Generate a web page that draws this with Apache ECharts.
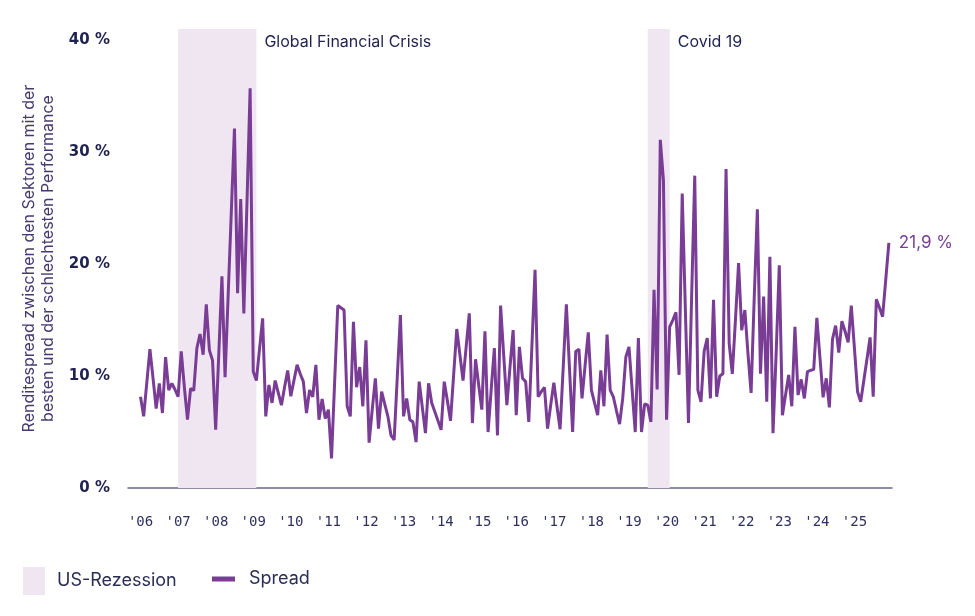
<!DOCTYPE html>
<html>
<head>
<meta charset="utf-8">
<script src="https://cdn.jsdelivr.net/npm/echarts@6/dist/echarts.min.js"></script>
<style>
  html, body { margin: 0; padding: 0; background: #fff; }
  #main { width: 975px; height: 616px; }
</style>
</head>
<body>
<div id="main"></div>
<script>
// Monatswerte Spread (%), Jan 2006 .. Dez 2025
var spread = [
  8.15, 6.4, 9.4, 12.4, 9.8, 7.1, 9.35, 6.7, 11.7, 8.75, 9.35, 8.8,
  8.15, 12.2, 9.0, 6.1, 8.9, 8.7, 12.5, 13.75, 11.9, 16.4, 12.3, 11.4,
  5.2, 12.0, 18.9, 9.9, 17.3, 24.7, 32.1, 17.4, 25.8, 15.6, 25.5, 35.7,
  10.4, 9.6, 12.4, 15.15, 6.4, 9.2, 7.6, 9.6, 8.5, 7.4, 9.0, 10.5,
  8.2, 9.6, 11.0, 10.2, 9.5, 6.7, 8.75, 8.15, 11.0, 6.1, 7.95, 6.2,
  7.0, 2.65, 9.5, 16.3, 16.1, 15.9, 7.3, 6.4, 14.85, 9.0, 10.8, 7.3,
  13.2, 4.05, 7.0, 9.8, 5.3, 8.6, 7.5, 6.4, 4.7, 4.3, 9.9, 15.45,
  6.4, 8.0, 6.1, 5.9, 4.1, 9.5, 7.2, 4.9, 9.35, 7.6, 6.8, 6.0,
  5.2, 9.5, 7.8, 6.0, 10.1, 14.2, 11.9, 9.6, 12.6, 15.6, 5.8, 11.5,
  9.2, 7.0, 14.0, 5.0, 8.8, 12.5, 4.7, 16.3, 11.8, 7.4, 10.8, 14.1,
  6.5, 12.6, 9.8, 9.5, 5.9, 12.7, 19.5, 8.15, 8.6, 9.0, 5.3, 7.4,
  9.4, 7.3, 5.25, 10.8, 16.4, 10.7, 5.0, 12.2, 12.4, 8.0, 11.0, 13.9,
  8.75, 7.6, 6.5, 10.5, 7.3, 13.7, 8.75, 8.15, 6.9, 5.7, 8.0, 11.7,
  12.6, 8.8, 5.0, 13.4, 5.0, 7.5, 7.4, 5.9, 17.7, 8.8, 31.1, 27.5,
  6.1, 14.4, 15.0, 15.7, 10.1, 26.3, 16.0, 5.8, 17.0, 27.9, 8.75, 7.7,
  12.2, 13.4, 8.0, 16.8, 8.15, 10.0, 10.2, 28.5, 12.9, 10.2, 15.0, 20.1,
  14.1, 15.9, 12.0, 8.5, 17.0, 24.9, 10.2, 17.1, 7.7, 20.65, 4.9, 12.0,
  19.9, 6.5, 8.3, 10.1, 7.3, 14.4, 8.3, 9.7, 8.0, 10.4, 10.5, 10.6,
  15.2, 11.6, 8.1, 9.8, 7.2, 13.3, 14.5, 12.1, 14.9, 14.0, 13.0, 16.3,
  12.5, 8.6, 7.7, 9.6, 11.5, 13.45, 8.15, 16.85, 16.1, 15.3, 18.6, 21.9
];
var firstMonth = '2006-01';
// Rezessionen (wie im Bild schattiert)
var recessions = [
  ['2007-01', '2009-02', 'Global Financial Crisis'],
  ['2019-07', '2020-02', 'Covid 19']
];
var yTicks = [0, 10, 20, 30, 40];

// Monatsachse Sep 2005 .. Jan 2026
var months = [];
for (var y = 2005; y <= 2026; y++) {
  for (var m = 1; m <= 12; m++) {
    var key = y + '-' + (m < 10 ? '0' + m : m);
    if (key < '2005-09' || key > '2026-01') continue;
    months.push(key);
  }
}
var offset = months.indexOf(firstMonth);
var lineData = months.map(function (k, i) {
  var v = spread[i - offset];
  return v === undefined ? '-' : v;
});

var navy = '#1f2250';
var purple = '#7a3d96';

var chart = echarts.init(document.getElementById('main'));
var option = {
  backgroundColor: '#fff',
  animation: false,
  grid: { left: 128, right: 83, top: 29, bottom: 128 },
  legend: [{
    data: ['US-Rezession'],
    left: 18, top: 562,
    icon: 'rect', itemWidth: 22, itemHeight: 28,
    textStyle: { fontFamily: 'Inter', fontSize: 18, color: '#2a2d55', padding: [0, 0, 0, 7] }
  }, {
    data: ['Spread'],
    left: 207, top: 565,
    icon: 'rect', itemWidth: 23, itemHeight: 5,
    textStyle: { fontFamily: 'Inter', fontSize: 18, color: '#2a2d55', padding: [0, 0, 0, 9] }
  }],
  xAxis: {
    type: 'category',
    data: months,
    boundaryGap: false,
    axisLine: { lineStyle: { color: '#65678c', width: 1.5 } },
    axisTick: { show: false },
    splitLine: { show: false },
    axisLabel: {
      interval: function (i, v) { return v.slice(5) === '01' && v < '2026'; },
      formatter: function (v) { return "'" + v.slice(2, 4); },
      fontFamily: 'DejaVu Sans Mono', fontSize: 14, color: '#2e3160', margin: 27
    }
  },
  yAxis: {
    type: 'value',
    min: 0, max: 41, interval: 10,
    axisLine: { show: false },
    axisTick: { show: false },
    splitLine: { show: false },
    axisLabel: {
      formatter: function (v) { return yTicks.indexOf(v) >= 0 ? v + ' %' : ''; },
      fontFamily: 'DejaVu Sans', fontWeight: 'bold', fontSize: 15, color: navy, margin: 18
    },
    name: 'Renditespread zwischen den Sektoren mit der\nbesten und der schlechtesten Performance',
    nameLocation: 'middle',
    nameRotate: 90,
    nameGap: 66,
    nameTextStyle: { fontFamily: 'Inter', fontSize: 16, color: '#463a6e', lineHeight: 19 }
  },
  series: [{
    name: 'US-Rezession',
    type: 'line',
    data: [],
    itemStyle: { color: '#f0e6f1' },
    markArea: {
      silent: true,
      itemStyle: { color: '#f0e6f1' },
      label: {
        show: true,
        position: ['100%', 0],
        offset: [8, 5],
        fontFamily: 'Inter', fontSize: 16, color: navy
      },
      data: recessions.map(function (r) {
        return [{ xAxis: r[0], name: r[2] }, { xAxis: r[1] }];
      })
    }
  }, {
    name: 'Spread',
    type: 'line',
    data: lineData,
    symbol: 'none',
    lineStyle: { color: purple, width: 3 },
    itemStyle: { color: purple },
    endLabel: {
      show: true,
      formatter: '21,9 %',
      distance: 10,
      fontFamily: 'Inter', fontSize: 17, color: purple
    }
  }]
};
chart.setOption(option);
</script>
</body>
</html>
